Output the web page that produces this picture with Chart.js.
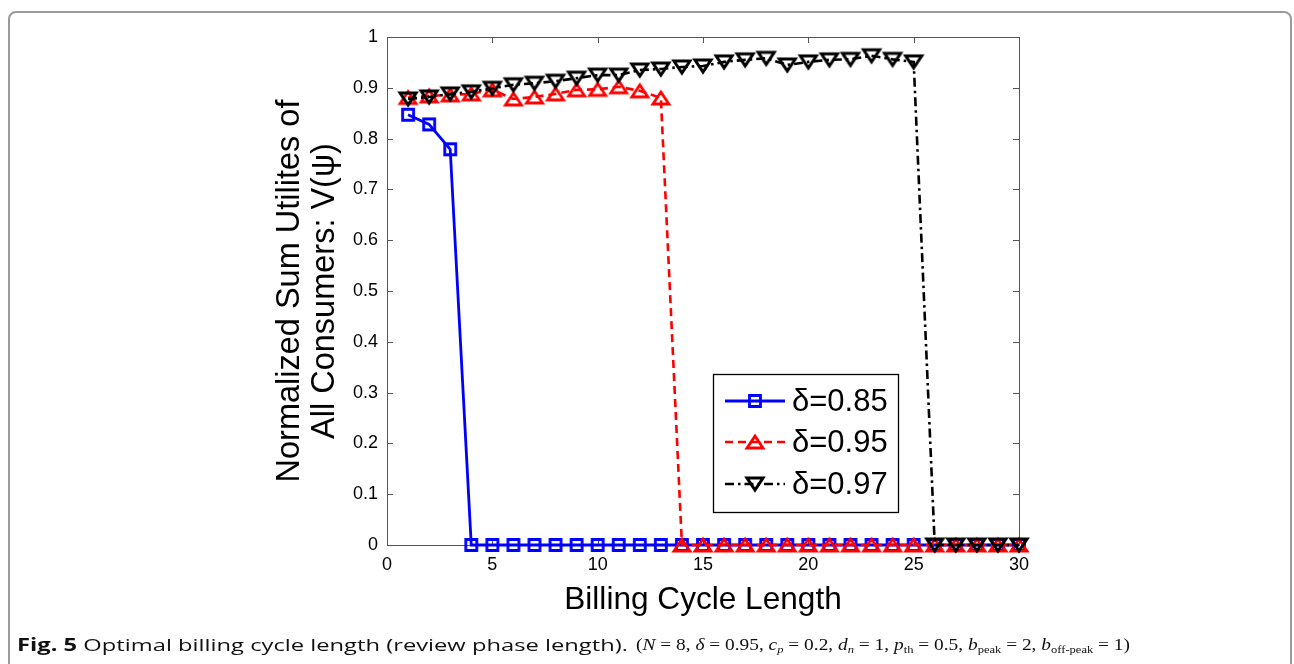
<!DOCTYPE html>
<html><head><meta charset="utf-8">
<script src="https://cdn.jsdelivr.net/npm/chart.js@4.4.1/dist/chart.umd.min.js"></script>
<style>
html,body{margin:0;padding:0;background:#fff;}
#wrap{position:relative;width:1294px;height:664px;overflow:hidden;background:#fff;}
#frame{position:absolute;left:8px;top:11px;width:1284px;height:700px;border:2px solid #9a9a9a;border-radius:8px;box-sizing:border-box;}
#c{position:absolute;left:0;top:0;}
.cap{position:absolute;top:635px;font-size:17px;line-height:20px;white-space:nowrap;color:#111;transform-origin:0 50%;}
#capA{left:17px;font-family:'Open Sans',sans-serif;}
#capB{left:636px;font-family:'Liberation Serif',serif;font-size:17px;}
.cap i{font-style:italic;}
.cap sub{font-size:11px;vertical-align:-3px;line-height:0;}
</style></head>
<body>
<div id="wrap">
<div id="frame"></div>
<canvas id="c" width="1294" height="664"></canvas>
<div class="cap" id="capA"><b>Fig. 5</b> Optimal billing cycle length (review phase length).</div>
<div class="cap" id="capB">(<i>N</i> = 8, <i>δ</i> = 0.95, <i>c<sub>p</sub></i> = 0.2, <i>d<sub>n</sub></i> = 1, <i>p</i><sub>th</sub> = 0.5, <i>b</i><sub>peak</sub> = 2, <i>b</i><sub>off-peak</sub> = 1)</div>
</div>
<script>
const xValues = [1,2,3,4,5,6,7,8,9,10,11,12,13,14,15,16,17,18,19,20,21,22,23,24,25,26,27,28,29,30];
const delta085 = [0.847,0.828,0.779,0,0,0,0,0,0,0,0,0,0,0,0,0,0,0,0,0,0,0,0,0,0,0,0,0,0,0];
const delta095 = [0.881,0.884,0.886,0.888,0.896,0.878,0.882,0.888,0.896,0.897,0.902,0.894,0.880,0,0,0,0,0,0,0,0,0,0,0,0,0,0,0,0,0];
const delta097 = [0.878,0.882,0.888,0.892,0.899,0.906,0.909,0.913,0.919,0.925,0.925,0.935,0.937,0.941,0.943,0.951,0.955,0.958,0.945,0.951,0.955,0.956,0.963,0.956,0.951,0,0,0,0,0];
const seriesLabels = ['δ=0.85','δ=0.95','δ=0.97'];
const xTickValues = [0,5,10,15,20,25,30];
const xTickLabels = ['0','5','10','15','20','25','30'];
const yTickValues = [0,0.1,0.2,0.3,0.4,0.5,0.6,0.7,0.8,0.9,1];
const yTickLabels = ['0','0.1','0.2','0.3','0.4','0.5','0.6','0.7','0.8','0.9','1'];
const xTitle = 'Billing Cycle Length';
const yTitle = ['Normalized Sum Utilites of','All Consumers: V(ψ)'];

// stretch caption parts to the reference widths
function fitWidth(id, w){
  const el = document.getElementById(id);
  const cw = el.getBoundingClientRect().width;
  el.style.transform = 'scaleX(' + (w / cw) + ')';
}
fitWidth('capA', 611);
fitWidth('capB', 494);

function marker(kind, color, lw){
  const s = 26, c = document.createElement('canvas');
  c.width = s; c.height = s;
  const g = c.getContext('2d'), m = s/2;
  g.strokeStyle = color; g.lineWidth = lw; g.lineJoin = 'miter';
  g.beginPath();
  if (kind === 'square') { g.rect(m-5.5, m-5.5, 11, 11); }
  else if (kind === 'up') { g.moveTo(m, m-6); g.lineTo(m+8, m+6); g.lineTo(m-8, m+6); g.closePath(); }
  else { g.moveTo(m-8, m-6); g.lineTo(m+8, m-6); g.lineTo(m, m+6); g.closePath(); }
  g.stroke();
  return c;
}
const mkBlue = marker('square', '#0000ff', 2.8);
const mkRed = marker('up', '#ff0000', 2.8);
const mkBlack = marker('down', '#000000', 3);

const styles = [
  {color:'#0000ff', dash:[], mk:mkBlue, w:2.8},
  {color:'#ff0000', dash:[8,5], mk:mkRed, w:2.6},
  {color:'#000000', dash:[9,4,2.5,4], mk:mkBlack, w:2.6}
];

const framePlugin = {
  id:'frame',
  beforeDatasetsDraw(chart){
    const {ctx, chartArea:a, scales:{x, y}} = chart;
    ctx.save();
    ctx.strokeStyle = '#555'; ctx.lineWidth = 1;
    ctx.strokeRect(Math.round(a.left)+0.5, Math.round(a.top)+0.5, Math.round(a.right-a.left), Math.round(a.bottom-a.top));
    const L = 6;
    ctx.beginPath();
    xTickValues.forEach(v => {
      const p = Math.round(x.getPixelForValue(v))+0.5;
      ctx.moveTo(p, a.bottom); ctx.lineTo(p, a.bottom-L);
      ctx.moveTo(p, a.top); ctx.lineTo(p, a.top+L);
    });
    yTickValues.forEach(v => {
      const p = Math.round(y.getPixelForValue(v))+0.5;
      ctx.moveTo(a.left, p); ctx.lineTo(a.left+L, p);
      ctx.moveTo(a.right, p); ctx.lineTo(a.right-L, p);
    });
    ctx.stroke();
    ctx.restore();
  }
};

const legendPlugin = {
  id:'boxLegend',
  afterDraw(chart){
    const ctx = chart.ctx;
    const bx = 713.5, by = 374.5, bw = 185, bh = 138;
    ctx.save();
    ctx.fillStyle = '#fff'; ctx.fillRect(bx, by, bw, bh);
    ctx.strokeStyle = '#000'; ctx.lineWidth = 1.3; ctx.strokeRect(bx, by, bw, bh);
    const rows = [401, 442, 484];
    seriesLabels.forEach((lab, i) => {
      const st = styles[i], yy = rows[i];
      ctx.strokeStyle = st.color; ctx.lineWidth = st.w; ctx.setLineDash(st.dash);
      ctx.beginPath(); ctx.moveTo(725, yy); ctx.lineTo(785, yy); ctx.stroke();
      ctx.setLineDash([]);
      ctx.drawImage(st.mk, 755-13, yy-13);
      ctx.fillStyle = '#000'; ctx.font = '31px "Liberation Sans", Arial, sans-serif';
      ctx.textBaseline = 'middle'; ctx.textAlign = 'left';
      ctx.fillText(lab, 792, yy+1);
    });
    ctx.restore();
  }
};

const series = [delta085, delta095, delta097];
const datasets = series.map((arr, i) => ({
  label: seriesLabels[i],
  data: xValues.map((xv, j) => ({x: xv, y: arr[j]})),
  borderColor: styles[i].color,
  backgroundColor: 'rgba(0,0,0,0)',
  borderWidth: styles[i].w,
  borderDash: styles[i].dash,
  pointStyle: styles[i].mk,
  pointRadius: 6,
  pointHoverRadius: 6,
  pointBorderWidth: 0,
  tension: 0,
  fill: false,
  clip: false,
  order: 2 - i
}));

const tickFont = {family: '"Liberation Sans", Arial, sans-serif', size: 18};
new Chart(document.getElementById('c'), {
  type: 'line',
  data: {datasets},
  options: {
    responsive: false,
    animation: false,
    events: [],
    layout: {padding: {left: 0, top: 37, right: 275, bottom: 0}},
    plugins: {legend: {display: false}, tooltip: {enabled: false}},
    scales: {
      x: {
        type: 'linear', min: 0, max: 30,
        grid: {display: false, drawTicks: false},
        border: {display: false},
        afterBuildTicks: s => { s.ticks = xTickValues.map(v => ({value: v})); },
        afterFit: s => { s.height = 119; },
        ticks: {font: tickFont, color: '#000', padding: 9, maxRotation: 0, autoSkip: false,
          callback: (v, i) => xTickLabels[i]},
        title: {display: true, text: xTitle, color: '#000',
          font: {family: '"Liberation Sans", Arial, sans-serif', size: 31.6, lineHeight: 1.2},
          padding: {top: 0, bottom: 45}}
      },
      y: {
        type: 'linear', min: 0, max: 1,
        grid: {display: false, drawTicks: false},
        border: {display: false},
        afterBuildTicks: s => { s.ticks = yTickValues.map(v => ({value: v})); },
        afterFit: s => { s.width = 387; },
        ticks: {font: tickFont, color: '#000', padding: 9, autoSkip: false,
          callback: (v, i) => yTickLabels[i]},
        title: {display: true, text: yTitle, color: '#000',
          font: {family: '"Liberation Sans", Arial, sans-serif', size: 32.5, lineHeight: 1.08},
          padding: {top: 272, bottom: 0}}
      }
    }
  },
  plugins: [framePlugin, legendPlugin]
});
</script>
</body></html>
